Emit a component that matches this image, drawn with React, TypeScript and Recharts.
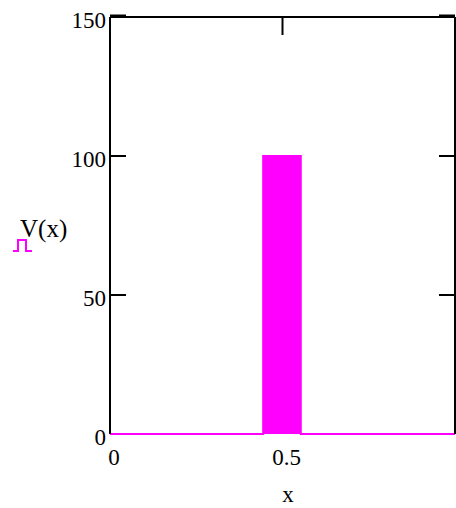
import { ComposedChart, Area, XAxis, YAxis } from 'recharts'

// pulse V(x): zero everywhere except a flat top of 100 around x = 0.5
const xs = [0, 0.444, 0.444, 0.553, 0.553, 1]
const vs = [0, 0, 100, 100, 0, 0]
const yTicks = [0, 50, 100, 150]
const xTicks = [0, 0.5]

const data = xs.map((x, i) => ({ x, v: vs[i] }))

const font = '"Liberation Serif", "Times New Roman", serif'
const MAGENTA = '#ff00ff'

function LeftTick({ x, y, payload }: any) {
  return (
    <g>
      {payload.value > 0 && <line x1={x} y1={y} x2={x + 16} y2={y} stroke="#000" strokeWidth={2} />}
      {payload.value === 150 && <line x1={x} y1={y - 1.5} x2={x + 16} y2={y - 1.5} stroke="#000" strokeWidth={2} />}
      <text x={x - 4} y={y + 11} textAnchor="end" fontFamily={font} fontSize={23} fill="#000">
        {payload.value}
      </text>
    </g>
  )
}

function RightTick({ x, y, payload }: any) {
  if (payload.value === 0) return <g />
  return (
    <g>
      <line x1={x} y1={y} x2={x - 16} y2={y} stroke="#000" strokeWidth={2} />
      {payload.value === 150 && <line x1={x} y1={y - 1.5} x2={x - 16} y2={y - 1.5} stroke="#000" strokeWidth={2} />}
    </g>
  )
}

function TopTick({ x, y }: any) {
  return <line x1={x} y1={y} x2={x} y2={y + 18} stroke="#000" strokeWidth={2} />
}

function BottomTick({ x, y, payload }: any) {
  return (
    <text x={x + 4} y={y + 31} textAnchor="middle" fontFamily={font} fontSize={23} fill="#000">
      {payload.value}
    </text>
  )
}

export default function App() {
  return (
    <div style={{ position: 'absolute', left: 0, top: 0, width: 456, height: 508, background: '#fff' }}>
      <ComposedChart width={456} height={508} data={data} margin={{ top: 0, right: 0, bottom: 0, left: 0 }}>
        <XAxis
          xAxisId="b"
          dataKey="x"
          type="number"
          domain={[0, 1]}
          ticks={xTicks}
          height={74}
          tickSize={0}
          tickMargin={0}
          tickLine={false}
          axisLine={false}
          tick={<BottomTick />}
          interval={0}
        />
        <XAxis
          xAxisId="t"
          orientation="top"
          dataKey="x"
          type="number"
          domain={[0, 1]}
          ticks={[0.5]}
          height={17}
          tickSize={0}
          tickMargin={0}
          tickLine={false}
          axisLine={{ stroke: '#000', strokeWidth: 2 }}
          tick={<TopTick />}
        />
        <YAxis
          yAxisId="l"
          domain={[0, 150]}
          ticks={yTicks}
          width={110}
          tickSize={0}
          tickMargin={0}
          tickLine={false}
          axisLine={{ stroke: '#000', strokeWidth: 2 }}
          tick={<LeftTick />}
          interval={0}
        />
        <YAxis
          yAxisId="r"
          orientation="right"
          domain={[0, 150]}
          ticks={yTicks}
          width={1}
          tickSize={0}
          tickMargin={0}
          tickLine={false}
          axisLine={{ stroke: '#000', strokeWidth: 2 }}
          tick={<RightTick />}
          interval={0}
        />
        <Area
          xAxisId="t"
          yAxisId="r"
          type="linear"
          dataKey="v"
          stroke="none"
          fill="none"
          dot={false}
          activeDot={false}
          isAnimationActive={false}
        />
        <Area
          xAxisId="b"
          yAxisId="l"
          type="linear"
          dataKey="v"
          stroke={MAGENTA}
          strokeWidth={2}
          fill={MAGENTA}
          fillOpacity={1}
          dot={false}
          activeDot={false}
          isAnimationActive={false}
        />
      </ComposedChart>
      <svg width={456} height={508} style={{ position: 'absolute', left: 0, top: 0, pointerEvents: 'none' }}>
        <text x={20} y={237} fontFamily={font} fontSize={25} fill="#000">V(x)</text>
        <path d="M13 251 H18 V240 H26 V251 H32" fill="none" stroke={MAGENTA} strokeWidth={2} />
        <text x={288} y={502} textAnchor="middle" fontFamily={font} fontSize={23} fill="#000">x</text>
      </svg>
    </div>
  )
}
